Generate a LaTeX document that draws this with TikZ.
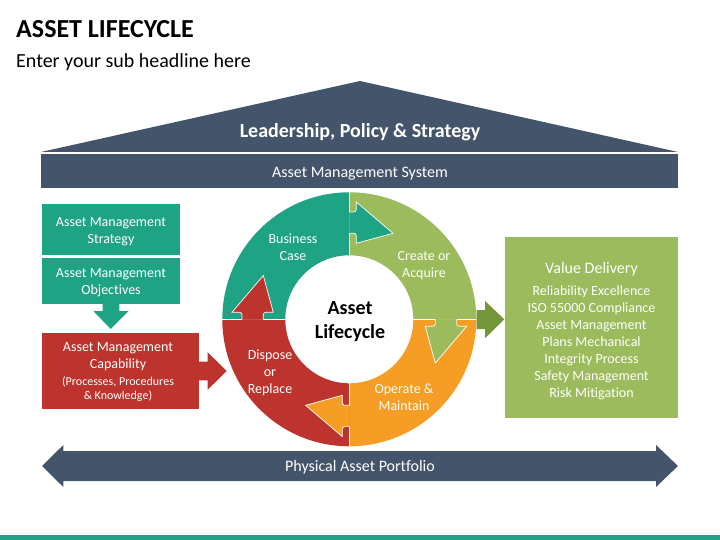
\documentclass[tikz,border=0pt]{standalone}
\usepackage{fontspec}
\setmainfont{Carlito}[Ligatures=NoCommon]
\usepackage{color}
\definecolor{assetnavy}{HTML}{44546A}
\definecolor{assetteal}{HTML}{1FA385}
\definecolor{assetlime}{HTML}{9BBB5C}
\definecolor{assetorange}{HTML}{F59D24}
\definecolor{assetred}{HTML}{BC342D}
\definecolor{assetolive}{HTML}{76963C}
\newcommand{\smalltxt}{\fontsize{12}{14}\selectfont}
\tikzset{
  boxtext/.style={inner sep=0pt,text=white,align=center,font=\fontsize{14}{17}\selectfont},
  bandtext/.style={inner sep=0pt,text=white,align=center,font=\fontsize{16}{19}\selectfont}
}
\begin{document}
\begin{tikzpicture}[line cap=butt,line join=miter,x=1pt,y=-1pt]
      \useasboundingbox (0,0) rectangle (720,540);
      \fill[white] (0,0) rectangle (720,540);
      \fill[assetteal] (0,535) rectangle (720,540);
      \node[anchor=base west,inner sep=0pt,font=\fontsize{26}{30}\selectfont\bfseries] (title) at (16,38) {ASSET LIFECYCLE};
      \node[anchor=base west,inner sep=0pt,font=\fontsize{20}{24}\selectfont] (subtitle) at (16,67.5) {Enter your sub headline here};
      \fill[assetnavy] (360,81) -- (678,152) -- (41,152) -- cycle;
      \node[boxtext,font=\fontsize{20}{24}\selectfont\bfseries] (roof) at (360,132) {Leadership, Policy \& Strategy};
      \fill[assetnavy] (41.2,154.3) rectangle (678.2,188.3);
      \node[bandtext] (system) at (360,174) {Asset Management System};
      \fill[assetteal] (41.7,204) rectangle (180,255);
      \node[boxtext] (strategy) at (111,231.5) {Asset Management\\Strategy};
      \fill[assetteal] (41.7,258) rectangle (180,304);
      \node[boxtext] (objectives) at (111,283) {Asset Management\\Objectives};
      \fill[assetteal] (102.7,304) -- (119.3,304) -- (119.3,311) -- (128.7,311) -- (110.7,329) -- (93.3,311) -- (102.7,311) -- cycle;
      \fill[assetred] (41.7,333.3) rectangle (199.3,409);
      \node[boxtext] (capability) at (118,372.5) {Asset Management\\Capability\\\smalltxt (Processes, Procedures\\[-3pt]\smalltxt \& Knowledge)};
      \fill[assetred] (199,361.7) -- (207.7,361.7) -- (207.7,352.3) -- (226.7,371) -- (207.7,389.7) -- (207.7,380.3) -- (199,380.3) -- cycle;
      \begin{scope}[shift={(349.3,319.3)}]
        \foreach \ang/\col in {0/assetteal,-90/assetlime,-180/assetorange,-270/assetred}
        {
          \begin{scope}[rotate=\ang]
            \fill[\col] (-127,0) arc[start angle=180,end angle=270,radius=127] -- (0,-64) arc[start angle=270,end angle=180,radius=64] -- cycle;
          \end{scope}
        }
        \foreach \ang in {0,-90,-180,-270}
        {
          \begin{scope}[rotate=\ang]
            \draw[white,line width=.7pt] (0,-127) -- (0,-107.3) (0,-86) -- (0,-64);
          \end{scope}
        }
        \foreach \ang/\col in {0/assetteal,-90/assetlime,-180/assetorange,-270/assetred}
        {
          \begin{scope}[rotate=\ang]
            \filldraw[fill=\col,draw=white,line width=.7pt] (0,-107.3) [rounded corners=2.5pt] -- (7,-107.3) [sharp corners] -- (7,-117.3) -- (43.7,-86) -- (7,-76) [rounded corners=2.5pt] -- (7,-86) [sharp corners] -- (0,-86);
          \end{scope}
        }
      \end{scope}
      \node[boxtext,font=\fontsize{20}{24}\selectfont\bfseries,text=black] (centre) at (350,322) {Asset\\Lifecycle};
      \node[boxtext] (business) at (293,247) {Business\\Case};
      \node[boxtext] (create) at (424,266) {Create or\\Acquire};
      \node[boxtext] (operate) at (404,397) {Operate \&\\Maintain};
      \node[boxtext] (dispose) at (270,372.5) {Dispose\\or\\Replace};
      \fill[assetolive] (476.7,310) -- (485,310) -- (485,301) -- (504.3,319.3) -- (485,338.3) -- (485,329) -- (476.7,329) -- cycle;
      \fill[assetlime] (505,236.7) rectangle (678.3,418.3);
      \node[boxtext] (value) at (591.5,331.5) {{\fontsize{16}{20}\selectfont Value Delivery}\\[5pt]Reliability Excellence\\ISO 55000 Compliance\\Asset Management\\Plans Mechanical\\Integrity Process\\Safety Management\\Risk Mitigation};
      \fill[assetnavy] (42,466) -- (63.3,445) -- (63.3,451) -- (656,451) -- (656,445) -- (678,466) -- (656,487) -- (656,481) -- (63.3,481) -- (63.3,487) -- cycle;
      \node[bandtext] (portfolio) at (360,467) {Physical Asset Portfolio};
    \end{tikzpicture}
\end{document}
